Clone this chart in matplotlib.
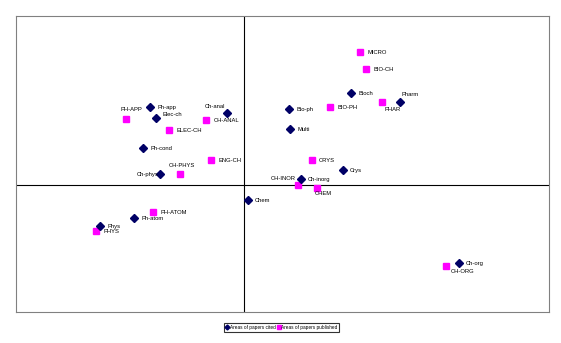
import matplotlib.pyplot as plt

# correspondence map: subject areas of cited vs published papers
cited_labels = ["Ph-app", "Elec-ch", "Ch-anal", "Ph-cond", "Ch-phys", "Ph-atom", "Phys",
                "Chem", "Ch-inorg", "Crys", "Bio-ph", "Multi", "Bioch", "Pharm", "Ch-org"]
cited_x = [-0.94, -0.88, -0.17, -1.01, -0.84, -1.10, -1.44,
           0.04, 0.57, 0.99, 0.45, 0.46, 1.07, 1.56, 2.15]
cited_y = [0.78, 0.67, 0.72, 0.37, 0.11, -0.33, -0.41,
           -0.15, 0.06, 0.15, 0.76, 0.56, 0.92, 0.83, -0.78]

pub_labels = ["PH-APP", "CH-ANAL", "ELEC-CH", "ENG-CH", "CH-PHYS", "PH-ATOM", "PHYS",
              "CH-INOR", "CHEM", "CRYS", "BIO-PH", "MICRO", "BIO-CH", "PHAR", "CH-ORG"]
pub_x = [-1.18, -0.38, -0.75, -0.33, -0.64, -0.91, -1.48,
         0.54, 0.73, 0.68, 0.86, 1.16, 1.22, 1.38, 2.02]
pub_y = [0.66, 0.65, 0.55, 0.25, 0.11, -0.27, -0.46,
         0.00, -0.03, 0.25, 0.78, 1.33, 1.16, 0.83, -0.81]

# label placement (offset points, alignment) where default right-hand placement collides
default_pos = (5, 0, "left")
label_pos = {
    "Ch-anal": (-1.5, 5, "right"),
    "Ch-phys": (-1, 0, "right"),
    "Elec-ch": (4.5, 2.5, "left"),
    "Pharm": (1, 5.5, "left"),
    "PH-APP": (-4, 7, "left"),
    "CH-PHYS": (-8, 6, "left"),
    "CH-INOR": (-1.5, 5, "right"),
    "CHEM": (-2, -4, "left"),
    "PHAR": (2, -5, "left"),
    "CH-ORG": (3.5, -4, "left"),
}

navy = "#000066"
pink = "#ff00ff"

plt.rcParams['font.family'] = ['Liberation Sans', 'DejaVu Sans']

fig = plt.figure(figsize=(5.61, 3.43), dpi=100)
ax = fig.add_axes([0.0294, 0.0895, 0.9492, 0.863])

ax.axhline(0, color="black", lw=0.8, zorder=1)
ax.axvline(0, color="black", lw=0.8, zorder=1)

ax.plot(cited_x, cited_y, "D", color=navy, ms=3.6, ls="none", zorder=3,
        label="Areas of papers cited")
ax.plot(pub_x, pub_y, "s", color=pink, ms=4.6, ls="none", zorder=2,
        label="Areas of papers published")


def put_labels(labels, xs, ys):
    for lab, x, y in zip(labels, xs, ys):
        dx, dy, ha = label_pos.get(lab, default_pos)
        ax.annotate(lab, (x, y), xytext=(dx, dy), textcoords="offset points",
                    ha=ha, va="center", fontsize=4.2, color="black", zorder=4)


put_labels(cited_labels, cited_x, cited_y)
put_labels(pub_labels, pub_x, pub_y)

ax.set_xlim(-2.28, 3.05)
ax.set_ylim(-1.27, 1.69)
ax.set_xticks([])
ax.set_yticks([])
for sp in ax.spines.values():
    sp.set_color("#808080")
    sp.set_linewidth(0.8)

leg = fig.legend(loc="center", bbox_to_anchor=(0.502, 0.0455), ncol=2,
                 fontsize=3.4, frameon=True, fancybox=False, handlelength=0.6,
                 handletextpad=0.2, columnspacing=0.4, borderpad=0.4,
                 markerscale=0.7)
leg.get_frame().set_edgecolor("black")
leg.get_frame().set_linewidth(0.8)

fig.savefig("out.png", dpi=100)
